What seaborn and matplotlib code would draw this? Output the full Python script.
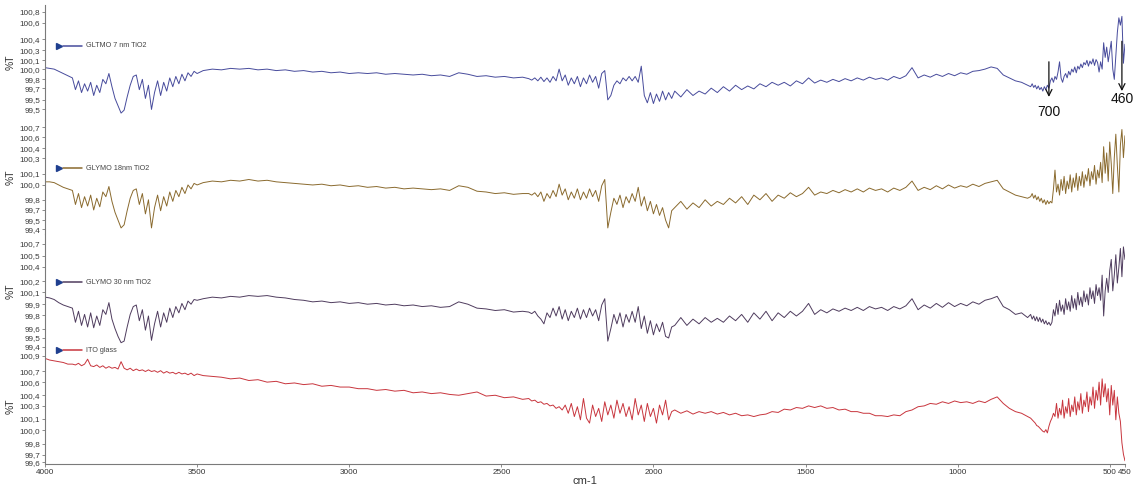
import numpy as np
import matplotlib
matplotlib.use("Agg")
import matplotlib.pyplot as plt
import seaborn as sns

# Wavenumber sampling grid (cm-1), denser where the spectra are noisy
wavenumber = np.concatenate([
    np.arange(4000, 3924, -15),
    np.arange(3910, 3499, -10),
    np.arange(3480, 2429, -30),
    np.arange(2410, 1939, -10),
    np.arange(1930, 769, -20),
    np.arange(760, 449, -5),
])

# %T values for each sample
gltmo_7nm = [
    100.04, 100.03, 100.02, 99.99, 99.96, 99.93,
    99.90, 99.74, 99.86, 99.70, 99.82, 99.72, 99.84, 99.66, 99.80, 99.70,
    99.88, 99.82, 99.96, 99.78, 99.62, 99.52, 99.42, 99.46, 99.64, 99.80,
    99.92, 99.94, 99.74, 99.88, 99.62, 99.80, 99.47, 99.70, 99.86, 99.66,
    99.84, 99.72, 99.90, 99.78, 99.92, 99.82, 99.95, 99.86, 99.97, 99.92,
    99.99, 99.96,
    100.00, 100.02, 100.01, 100.03, 100.02, 100.03, 100.01, 100.02, 100.00, 100.01,
    99.99, 100.00, 99.98, 99.99, 99.97, 99.98, 99.96, 99.97, 99.96, 99.97,
    99.95, 99.96, 99.95, 99.94, 99.95, 99.93, 99.94, 99.92, 99.97, 99.95,
    99.92, 99.93, 99.91, 99.92, 99.90, 99.91,
    99.89, 99.87, 99.90, 99.86, 99.91, 99.85, 99.90, 99.84, 99.92, 99.86,
    100.02, 99.86, 99.94, 99.80, 99.90, 99.82, 99.92, 99.78, 99.90, 99.82,
    99.94, 99.84, 99.92, 99.76, 99.96, 100.00, 99.60, 99.66, 99.80, 99.86,
    99.82, 99.90, 99.86, 99.92, 99.86, 99.92, 99.84, 100.06, 99.66, 99.56,
    99.70, 99.55, 99.68, 99.58, 99.72, 99.60, 99.70, 99.62,
    99.72, 99.64, 99.74, 99.66, 99.72, 99.68, 99.76, 99.70, 99.78, 99.72,
    99.80, 99.74, 99.79, 99.75, 99.82, 99.78, 99.84, 99.80, 99.84, 99.79,
    99.86, 99.82, 99.90, 99.83, 99.87, 99.84, 99.88, 99.85, 99.89, 99.86,
    99.90, 99.87, 99.91, 99.88, 99.90, 99.87, 99.92, 99.89, 99.93, 100.04,
    99.90, 99.94, 99.91, 99.95, 99.92, 99.96, 99.93, 99.97, 99.95, 99.99,
    100.00, 100.02, 100.05, 100.03, 99.94, 99.90, 99.86, 99.84, 99.80,
    99.78, 99.82, 99.77, 99.80, 99.75, 99.79, 99.74, 99.77, 99.72, 99.78,
    99.74, 99.80, 99.76, 99.86, 99.90, 99.84, 99.92, 99.88, 99.98, 100.12,
    99.90, 99.84, 99.92, 99.96, 99.90, 99.99, 99.94, 100.02, 99.98, 100.05,
    99.97, 100.06, 100.02, 100.09, 100.04, 100.11, 100.08, 100.14, 100.06, 100.13,
    100.09, 100.16, 100.07, 100.15, 100.11, 99.98, 100.12, 100.02, 100.38, 100.18,
    100.32, 100.12, 100.26, 100.40, 100.02, 99.88, 100.20, 100.52, 100.72, 100.62,
    100.74, 100.10, 100.36,
]

glymo_18nm = [
    99.99, 99.99, 99.98, 99.95, 99.92, 99.90,
    99.88, 99.70, 99.84, 99.66, 99.80, 99.68, 99.82, 99.63, 99.78, 99.67,
    99.86, 99.80, 99.93, 99.74, 99.60, 99.50, 99.40, 99.44, 99.62, 99.78,
    99.88, 99.90, 99.70, 99.84, 99.58, 99.76, 99.40, 99.66, 99.82, 99.62,
    99.80, 99.68, 99.86, 99.74, 99.88, 99.80, 99.92, 99.84, 99.95, 99.90,
    99.97, 99.95,
    99.98, 100.00, 99.99, 100.01, 100.00, 100.02, 100.00, 100.01, 99.99, 99.98,
    99.97, 99.96, 99.95, 99.96, 99.94, 99.95, 99.93, 99.94, 99.92, 99.93,
    99.91, 99.92, 99.90, 99.91, 99.90, 99.89, 99.90, 99.88, 99.94, 99.92,
    99.87, 99.86, 99.84, 99.85, 99.83, 99.84,
    99.84, 99.82, 99.85, 99.80, 99.86, 99.74, 99.84, 99.78, 99.88, 99.80,
    99.96, 99.82, 99.90, 99.76, 99.86, 99.78, 99.90, 99.76, 99.86, 99.78,
    99.90, 99.80, 99.88, 99.74, 99.94, 100.02, 99.40, 99.60, 99.78, 99.70,
    99.82, 99.66, 99.80, 99.72, 99.84, 99.74, 99.92, 99.68, 99.80, 99.62,
    99.74, 99.58, 99.70, 99.56, 99.66, 99.50, 99.40, 99.62,
    99.66, 99.74, 99.64, 99.72, 99.66, 99.76, 99.68, 99.74, 99.70, 99.78,
    99.72, 99.80, 99.70, 99.82, 99.76, 99.84, 99.74, 99.82, 99.78, 99.85,
    99.80, 99.84, 99.92, 99.82, 99.86, 99.84, 99.88, 99.85, 99.89, 99.86,
    99.90, 99.86, 99.91, 99.88, 99.90, 99.86, 99.91, 99.88, 99.92, 100.00,
    99.88, 99.92, 99.89, 99.94, 99.90, 99.95, 99.91, 99.94, 99.92, 99.96,
    99.93, 99.97, 99.99, 100.01, 99.90, 99.86, 99.82, 99.80, 99.78,
    99.80, 99.84, 99.78, 99.82, 99.76, 99.80, 99.74, 99.78, 99.72, 99.76,
    99.70, 99.75, 99.71, 99.74, 99.72, 99.90, 100.14, 99.86, 99.96, 99.82,
    100.02, 99.88, 100.06, 99.84, 100.00, 99.90, 100.08, 99.86, 100.04, 99.92,
    100.10, 99.88, 100.06, 99.94, 100.12, 99.92, 100.08, 100.00, 100.16, 99.94,
    100.12, 100.02, 100.20, 99.96, 100.14, 100.04, 100.24, 99.98, 100.44, 100.10,
    100.36, 100.00, 100.50, 100.22, 99.84, 100.30, 100.60, 100.20, 99.86, 100.46,
    100.66, 100.30, 100.58,
]

glymo_30nm = [
    100.02, 100.01, 99.99, 99.95, 99.92, 99.90,
    99.88, 99.70, 99.84, 99.66, 99.80, 99.64, 99.82, 99.63, 99.78, 99.66,
    99.86, 99.80, 99.95, 99.74, 99.62, 99.52, 99.44, 99.46, 99.64, 99.80,
    99.90, 99.92, 99.72, 99.86, 99.60, 99.78, 99.47, 99.68, 99.84, 99.64,
    99.82, 99.70, 99.88, 99.76, 99.90, 99.82, 99.94, 99.86, 99.97, 99.93,
    99.99, 99.98,
    100.00, 100.02, 100.01, 100.03, 100.02, 100.04, 100.03, 100.04, 100.02, 100.01,
    99.99, 99.98, 99.96, 99.97, 99.95, 99.96, 99.94, 99.95, 99.93, 99.94,
    99.92, 99.93, 99.91, 99.92, 99.90, 99.91, 99.89, 99.90, 99.96, 99.93,
    99.88, 99.87, 99.85, 99.86, 99.83, 99.84,
    99.83, 99.81, 99.84, 99.78, 99.74, 99.68, 99.82, 99.76, 99.88, 99.78,
    99.90, 99.74, 99.86, 99.72, 99.84, 99.76, 99.88, 99.74, 99.86, 99.76,
    99.88, 99.78, 99.86, 99.72, 99.92, 100.00, 99.46, 99.62, 99.80, 99.68,
    99.82, 99.64, 99.80, 99.70, 99.84, 99.70, 99.90, 99.62, 99.78, 99.56,
    99.72, 99.54, 99.68, 99.58, 99.70, 99.52, 99.50, 99.64,
    99.66, 99.76, 99.66, 99.74, 99.68, 99.76, 99.70, 99.75, 99.70, 99.78,
    99.72, 99.80, 99.70, 99.82, 99.74, 99.84, 99.72, 99.82, 99.76, 99.84,
    99.78, 99.84, 99.94, 99.80, 99.86, 99.82, 99.87, 99.84, 99.88, 99.85,
    99.89, 99.85, 99.90, 99.87, 99.89, 99.85, 99.90, 99.87, 99.91, 100.00,
    99.86, 99.92, 99.88, 99.94, 99.89, 99.95, 99.90, 99.94, 99.91, 99.96,
    99.93, 99.98, 100.00, 100.03, 99.90, 99.86, 99.80, 99.82, 99.76,
    99.80, 99.74, 99.78, 99.72, 99.77, 99.71, 99.76, 99.70, 99.74, 99.68,
    99.72, 99.67, 99.70, 99.66, 99.70, 99.86, 99.78, 99.94, 99.80, 99.98,
    99.84, 99.92, 99.80, 100.00, 99.86, 99.96, 99.84, 100.04, 99.88, 100.00,
    99.86, 100.08, 99.92, 100.02, 99.90, 100.10, 99.96, 100.06, 99.92, 100.14,
    100.00, 100.10, 99.94, 100.18, 100.04, 100.14, 99.98, 100.30, 99.78, 100.10,
    100.26, 100.08, 100.36, 100.50, 100.10, 100.30, 100.56, 100.20, 100.40, 100.64,
    100.28, 100.66, 100.50,
]

ito_glass = [
    100.87, 100.85, 100.84, 100.83, 100.82, 100.80,
    100.80, 100.79, 100.81, 100.78, 100.80, 100.86, 100.78, 100.77, 100.79, 100.76,
    100.78, 100.75, 100.77, 100.75, 100.76, 100.74, 100.83, 100.75, 100.73, 100.75,
    100.72, 100.74, 100.72, 100.73, 100.71, 100.73, 100.71, 100.72, 100.70, 100.72,
    100.69, 100.71, 100.69, 100.70, 100.68, 100.70, 100.68, 100.69, 100.67, 100.69,
    100.66, 100.68,
    100.66, 100.65, 100.64, 100.62, 100.63, 100.60, 100.61, 100.58, 100.59, 100.56,
    100.57, 100.55, 100.56, 100.53, 100.54, 100.52, 100.52, 100.50, 100.50, 100.48,
    100.49, 100.47, 100.48, 100.45, 100.46, 100.44, 100.45, 100.43, 100.42, 100.44,
    100.46, 100.41, 100.42, 100.39, 100.40, 100.37,
    100.38, 100.35, 100.36, 100.33, 100.34, 100.31, 100.32, 100.29, 100.30, 100.26,
    100.28, 100.24, 100.30, 100.20, 100.32, 100.16, 100.28, 100.12, 100.38, 100.14,
    100.08, 100.30, 100.16, 100.26, 100.10, 100.34, 100.18, 100.30, 100.14, 100.36,
    100.20, 100.32, 100.16, 100.28, 100.12, 100.38, 100.18, 100.30, 100.10, 100.32,
    100.16, 100.26, 100.08, 100.30, 100.18, 100.36, 100.12, 100.22,
    100.24, 100.20, 100.23, 100.19, 100.22, 100.20, 100.22, 100.19, 100.21, 100.18,
    100.20, 100.17, 100.18, 100.16, 100.18, 100.19, 100.22, 100.21, 100.25, 100.24,
    100.27, 100.26, 100.29, 100.27, 100.29, 100.26, 100.27, 100.24, 100.25, 100.22,
    100.22, 100.20, 100.20, 100.17, 100.17, 100.16, 100.18, 100.17, 100.22, 100.24,
    100.28, 100.29, 100.32, 100.31, 100.34, 100.32, 100.35, 100.33, 100.34, 100.32,
    100.35, 100.33, 100.37, 100.40, 100.32, 100.26, 100.22, 100.20, 100.16,
    100.14, 100.12, 100.10, 100.08, 100.05, 100.04, 100.02, 100.00, 99.98, 99.97,
    100.00, 99.96, 100.04, 100.10, 100.14, 100.20, 100.16, 100.32, 100.14, 100.26,
    100.18, 100.36, 100.14, 100.28, 100.20, 100.38, 100.16, 100.30, 100.22, 100.40,
    100.18, 100.34, 100.24, 100.44, 100.20, 100.36, 100.28, 100.46, 100.22, 100.40,
    100.30, 100.52, 100.26, 100.48, 100.36, 100.58, 100.30, 100.62, 100.40, 100.56,
    100.34, 100.50, 100.18, 100.54, 100.30, 100.48, 100.12, 100.40, 100.20, 100.10,
    99.84, 99.70, 99.62,
]

sample_names = ["GLTMO 7 nm TiO2", "GLYMO 18nm TiO2", "GLYMO 30 nm TiO2", "ITO glass"]
sample_colors = ["#474b9c", "#8a6a2e", "#4f3c5e", "#c8353d"]
sample_values = [gltmo_7nm, glymo_18nm, glymo_30nm, ito_glass]

y_limits = [(99.33, 100.895), (99.318, 100.786), (99.36, 100.82), (99.585, 100.985)]
y_ticks = [
    [100.80, 100.65, 100.43, 100.28, 100.14, 100.02, 99.88, 99.76, 99.60, 99.47],
    [100.69, 100.56, 100.42, 100.29, 100.09, 99.95, 99.76, 99.63, 99.50, 99.38],
    [100.70, 100.55, 100.41, 100.22, 100.08, 99.93, 99.79, 99.62, 99.50, 99.39],
    [100.90, 100.71, 100.58, 100.42, 100.29, 100.13, 99.99, 99.83, 99.69, 99.60],
]
y_tick_labels = [
    ["100,8", "100,6", "100,4", "100,3", "100,1", "100,0", "99,8", "99,7", "99,5", "99,5"],
    ["100,7", "100,6", "100,4", "100,3", "100,1", "100,0", "99,8", "99,7", "99,5", "99,4"],
    ["100,7", "100,5", "100,4", "100,2", "100,1", "99,9", "99,8", "99,6", "99,5", "99,4"],
    ["100,9", "100,7", "100,6", "100,4", "100,3", "100,1", "100,0", "99,8", "99,7", "99,6"],
]
x_ticks = [4000, 3500, 3000, 2500, 2000, 1500, 1000, 500, 450]

# Marked bands on the top spectrum: (wavenumber, arrow tail %T, arrow tip %T, label %T)
band_marks = [(700, 100.12, 99.64, 99.43), (460, 100.40, 99.72, 99.61)]

sns.set_theme(style="white")
plt.rcParams["font.family"] = ["Liberation Sans", "DejaVu Sans"]

fig, axes = plt.subplots(4, 1, sharex=True, figsize=(11.37, 4.87), dpi=100)
fig.subplots_adjust(left=0.0396, right=0.9894, top=0.9897, bottom=0.048, hspace=0)

legend_y = [0.646, 0.578, 0.58, 0.99]
spine_color = "#7a7a7a"

for i, ax in enumerate(axes):
    sns.lineplot(x=wavenumber, y=sample_values[i], ax=ax, color=sample_colors[i],
                 linewidth=0.7, legend=False)
    ax.set_xlim(4000, 450)
    ax.set_ylim(*y_limits[i])
    ax.set_yticks(y_ticks[i])
    ax.set_yticklabels(y_tick_labels[i])
    ax.tick_params(axis="y", which="both", left=True, length=2.5, width=0.6,
                   color=spine_color, labelsize=5.9, labelcolor="#3a3a3a", pad=1)
    for side in ("top", "right", "bottom"):
        ax.spines[side].set_visible(False)
    ax.spines["left"].set_color(spine_color)
    ax.spines["left"].set_linewidth(0.8)
    ax.set_ylabel("%T", fontsize=7.5, color="#333333")
    ax.yaxis.set_label_coords(-0.027, 0.5)
    ax.grid(False)

    # legend entry: chevron, sample line and name
    ly = legend_y[i]
    ax.plot([0.0125], [ly], marker=">", markersize=5, color="#1f3f8f",
            transform=ax.transAxes, clip_on=False)
    ax.plot([0.0165, 0.0345], [ly, ly], color=sample_colors[i], linewidth=1.1,
            transform=ax.transAxes, clip_on=False)
    ax.text(0.0375, ly, sample_names[i], transform=ax.transAxes, fontsize=5.2,
            color="#444444", va="center", ha="left")

bottom = axes[-1]
bottom.spines["bottom"].set_visible(True)
bottom.spines["bottom"].set_color(spine_color)
bottom.spines["bottom"].set_linewidth(0.8)
bottom.set_xticks(x_ticks)
bottom.set_xticklabels([str(t) for t in x_ticks])
bottom.tick_params(axis="x", which="both", bottom=True, length=2.5, width=0.6,
                   color=spine_color, labelsize=5.9, labelcolor="#333333", pad=1.5)
bottom.set_xlabel("cm-1", fontsize=8, color="#333333", labelpad=0)

top = axes[0]
for wn, tail, tip, label_y in band_marks:
    top.annotate("", xy=(wn, tip), xytext=(wn, tail),
                 arrowprops=dict(arrowstyle="->", color="#111111", lw=0.9,
                                 mutation_scale=11, shrinkA=0, shrinkB=0))
    top.text(wn, label_y, str(wn), fontsize=10, color="#111111",
             ha="center", va="center", clip_on=False)

fig.savefig("out.png", dpi=100, facecolor="white")
